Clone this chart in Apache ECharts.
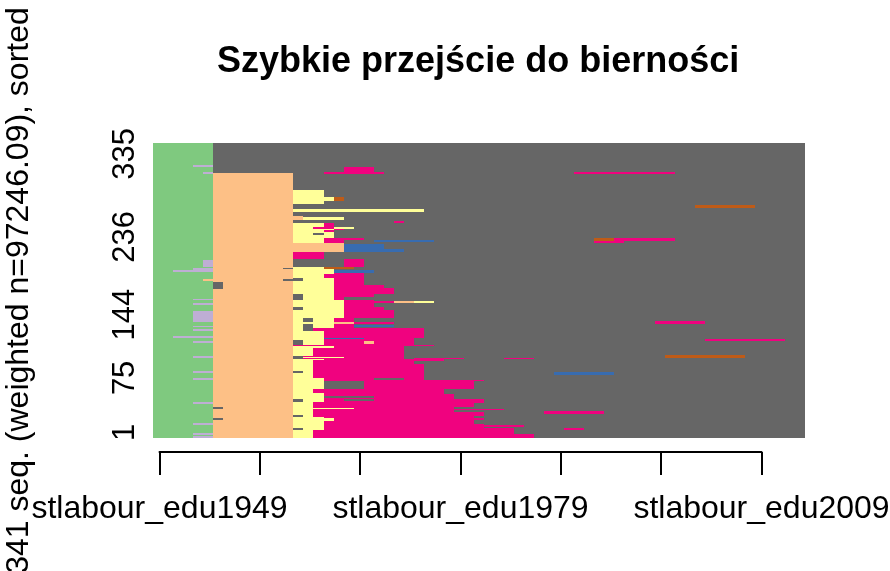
<!DOCTYPE html>
<html>
<head>
<meta charset="utf-8">
<title>Szybkie przejście do bierności</title>
<script src="https://cdn.jsdelivr.net/npm/echarts@6/dist/echarts.min.js"></script>
<style>
  html, body { margin: 0; padding: 0; background: #fff; }
  #chart { width: 890px; height: 571px; }
</style>
</head>
<body>
<div id="chart"></div>
<script>
// state palette (RColorBrewer "Accent", as TraMineR uses it)
const stateColors = {
  green: "#7FC97F",
  purple: "#BEAED4",
  peach: "#FDC086",
  yellow: "#FFFF99",
  blue: "#386CB0",
  pink: "#F0027F",
  brown: "#BF5B17",
  grey: "#666666"
};

const nSeq = 341;
const firstYear = 1949;
const lastYear = 2013;
// weighted index labels and the (row-scale) places where they sit
const yTickLabels = [1, 75, 144, 236, 335];
const yTickPos = [7, 70, 143, 233, 329];
const xTickYears = [1949, 1959, 1969, 1979, 1989, 1999, 2009];
const xLabelYears = [1949, 1979, 2009];

// spells: [rowFrom, rowTo, yearFrom, yearTo, state]  (rows counted from bottom)
const baseSpells = [
  [1, 341, 1949, 2013, "grey"],
  [1, 341, 1949, 1954, "green"],
  [1, 306, 1955, 1962, "peach"]
];

// early spells inside green / peach blocks
const earlySpells = [
  [1, 2, 1953, 1954, "purple"],
  [5, 6, 1953, 1954, "purple"],
  [16, 17, 1953, 1954, "purple"],
  [40, 42, 1953, 1954, "purple"],
  [68, 69, 1953, 1954, "purple"],
  [76, 77, 1953, 1954, "purple"],
  [94, 95, 1953, 1954, "purple"],
  [111, 112, 1953, 1954, "purple"],
  [117, 118, 1951, 1954, "purple"],
  [125, 126, 1953, 1954, "purple"],
  [129, 130, 1953, 1954, "purple"],
  [135, 147, 1953, 1954, "purple"],
  [155, 156, 1953, 1954, "purple"],
  [160, 161, 1953, 1954, "purple"],
  [183, 184, 1954, 1954, "peach"],
  [193, 194, 1951, 1954, "purple"],
  [195, 196, 1953, 1954, "purple"],
  [199, 206, 1954, 1954, "purple"],
  [306, 307, 1954, 1954, "purple"],
  [314, 316, 1953, 1954, "purple"],
  [22, 23, 1955, 1955, "grey"],
  [35, 36, 1955, 1955, "grey"],
  [173, 180, 1955, 1955, "grey"],
  [183, 184, 1962, 1962, "grey"],
  [196, 197, 1962, 1962, "grey"]
];

// pink (employment) block after leaving school, bottom part
const pinkSpells = [
  [1, 5, 1963, 1986, "pink"],
  [6, 11, 1963, 1984, "pink"],
  [12, 13, 1963, 1981, "pink"],
  [14, 15, 1963, 1985, "pink"],
  [16, 16, 1963, 1981, "pink"],
  [17, 21, 1963, 1980, "pink"],
  [22, 23, 1963, 1981, "pink"],
  [24, 25, 1963, 1980, "pink"],
  [26, 30, 1963, 1981, "pink"],
  [31, 32, 1963, 1978, "pink"],
  [33, 34, 1963, 1983, "pink"],
  [35, 36, 1963, 1978, "pink"],
  [37, 41, 1963, 1980, "pink"],
  [42, 45, 1963, 1981, "pink"],
  [46, 51, 1963, 1978, "pink"],
  [52, 57, 1963, 1977, "pink"],
  [58, 66, 1963, 1980, "pink"],
  [67, 67, 1963, 1981, "pink"],
  [68, 86, 1963, 1975, "pink"],
  [87, 89, 1963, 1974, "pink"],
  [90, 91, 1963, 1977, "pink"],
  [92, 93, 1963, 1973, "pink"],
  [92, 93, 1975, 1979, "pink"],
  [92, 93, 1984, 1986, "pink"],
  [94, 106, 1963, 1973, "pink"],
  [107, 108, 1963, 1976, "pink"],
  [109, 113, 1963, 1974, "pink"]
];

// yellow / grey starts of the bottom part
const startSpells = [
  [1, 9, 1963, 1964, "yellow"],
  [10, 12, 1963, 1963, "grey"],
  [10, 12, 1964, 1965, "yellow"],
  [13, 24, 1963, 1965, "yellow"],
  [21, 23, 1963, 1966, "yellow"],
  [25, 27, 1963, 1963, "grey"],
  [25, 27, 1964, 1964, "yellow"],
  [28, 33, 1963, 1964, "yellow"],
  [34, 35, 1963, 1968, "yellow"],
  [36, 42, 1963, 1964, "yellow"],
  [43, 45, 1963, 1963, "grey"],
  [43, 45, 1964, 1965, "yellow"],
  [44, 45, 1968, 1970, "grey"],
  [46, 52, 1963, 1965, "yellow"],
  [47, 48, 1966, 1970, "grey"],
  [53, 57, 1963, 1964, "yellow"],
  [58, 66, 1963, 1965, "yellow"],
  [58, 66, 1966, 1969, "grey"],
  [67, 69, 1963, 1965, "yellow"],
  [68, 69, 1971, 1973, "grey"],
  [70, 75, 1963, 1964, "yellow"],
  [76, 78, 1963, 1963, "grey"],
  [76, 78, 1964, 1964, "yellow"],
  [79, 90, 1963, 1964, "yellow"],
  [91, 91, 1963, 1965, "yellow"],
  [92, 95, 1963, 1963, "grey"],
  [93, 94, 1964, 1967, "yellow"],
  [96, 104, 1963, 1964, "yellow"],
  [105, 106, 1963, 1966, "yellow"],
  [109, 113, 1963, 1963, "grey"],
  [109, 113, 1964, 1965, "yellow"],
  [110, 112, 1970, 1970, "peach"]
];

// middle and upper part of the plot
const midSpells = [
  [114, 116, 1963, 1965, "yellow"],
  [114, 116, 1966, 1974, "pink"],
  [115, 116, 1966, 1969, "blue"],
  [117, 124, 1963, 1965, "yellow"],
  [117, 124, 1966, 1975, "pink"],
  [125, 127, 1963, 1963, "yellow"],
  [125, 127, 1965, 1975, "pink"],
  [128, 132, 1963, 1963, "yellow"],
  [128, 132, 1965, 1966, "yellow"],
  [128, 132, 1967, 1968, "pink"],
  [129, 131, 1969, 1972, "blue"],
  [133, 134, 1963, 1966, "yellow"],
  [133, 134, 1967, 1972, "pink"],
  [133, 134, 1967, 1968, "peach"],
  [135, 139, 1963, 1963, "yellow"],
  [135, 139, 1965, 1966, "yellow"],
  [135, 139, 1967, 1968, "pink"],
  [140, 148, 1963, 1967, "yellow"],
  [140, 148, 1968, 1972, "pink"],
  [149, 152, 1964, 1967, "yellow"],
  [149, 152, 1968, 1971, "pink"],
  [153, 160, 1963, 1967, "yellow"],
  [153, 160, 1968, 1970, "pink"],
  [157, 158, 1968, 1972, "pink"],
  [157, 158, 1973, 1974, "peach"],
  [157, 158, 1975, 1976, "yellow"],
  [161, 163, 1964, 1966, "yellow"],
  [161, 163, 1967, 1967, "pink"],
  [164, 166, 1964, 1966, "yellow"],
  [164, 166, 1967, 1970, "pink"],
  [167, 173, 1963, 1966, "yellow"],
  [167, 173, 1967, 1972, "pink"],
  [174, 177, 1963, 1966, "yellow"],
  [174, 177, 1967, 1971, "pink"],
  [178, 182, 1963, 1966, "yellow"],
  [178, 182, 1967, 1969, "pink"],
  [183, 185, 1964, 1966, "yellow"],
  [183, 185, 1967, 1969, "pink"],
  [186, 189, 1963, 1965, "yellow"],
  [186, 189, 1966, 1969, "pink"],
  [190, 191, 1963, 1966, "yellow"],
  [190, 191, 1967, 1969, "pink"],
  [192, 193, 1963, 1966, "yellow"],
  [192, 194, 1967, 1970, "blue"],
  [194, 195, 1963, 1966, "yellow"],
  [196, 198, 1963, 1965, "yellow"],
  [196, 198, 1966, 1968, "brown"],
  [199, 207, 1968, 1969, "pink"],
  [208, 215, 1963, 1965, "pink"],
  [216, 225, 1963, 1967, "peach"],
  [216, 219, 1968, 1973, "blue"],
  [220, 224, 1968, 1971, "blue"],
  [226, 231, 1963, 1965, "yellow"],
  [226, 231, 1966, 1967, "pink"],
  [227, 229, 1971, 1976, "blue"],
  [230, 231, 1968, 1969, "pink"],
  [232, 235, 1963, 1966, "yellow"],
  [236, 240, 1963, 1966, "yellow"],
  [236, 237, 1965, 1965, "grey"],
  [239, 240, 1966, 1966, "pink"],
  [241, 242, 1963, 1966, "yellow"],
  [241, 242, 1967, 1967, "pink"],
  [243, 244, 1963, 1964, "yellow"],
  [243, 244, 1965, 1966, "pink"],
  [243, 244, 1967, 1968, "yellow"],
  [245, 249, 1963, 1965, "yellow"],
  [245, 249, 1966, 1966, "pink"],
  [249, 251, 1973, 1973, "pink"],
  [253, 257, 1963, 1963, "peach"],
  [253, 255, 1964, 1967, "yellow"],
  [262, 265, 1963, 1975, "yellow"],
  [271, 287, 1963, 1965, "yellow"],
  [275, 279, 1966, 1966, "yellow"],
  [275, 279, 1967, 1967, "brown"],
  [306, 307, 1966, 1971, "pink"],
  [308, 313, 1968, 1970, "pink"]
];

// isolated later spells on the right
const lateSpells = [
  [10, 11, 1990, 1991, "pink"],
  [29, 31, 1988, 1993, "pink"],
  [74, 76, 1989, 1994, "blue"],
  [94, 96, 2000, 2007, "brown"],
  [113, 115, 2004, 2011, "pink"],
  [133, 135, 1999, 2003, "pink"],
  [226, 228, 1993, 1995, "pink"],
  [229, 231, 1993, 1994, "brown"],
  [229, 231, 1995, 2000, "pink"],
  [267, 269, 2003, 2008, "brown"],
  [306, 308, 1991, 2000, "pink"]
];

const spells = [].concat(baseSpells, earlySpells, pinkSpells, startSpells, midSpells, lateSpells);

const chart = echarts.init(document.getElementById("chart"));
const font = "'Liberation Sans', Arial, sans-serif";

function renderSpell(params, api) {
  // cell edges are half a unit around the row / year centres
  const p0 = api.coord([api.value(2) - 0.5, api.value(1) + 0.5]);
  const p1 = api.coord([api.value(3) + 0.5, api.value(0) - 0.5]);
  const x0 = Math.round(p0[0]), y0 = Math.round(p0[1]);
  const x1 = Math.round(p1[0]), y1 = Math.round(p1[1]);
  return {
    type: "rect",
    shape: { x: x0, y: y0, width: x1 - x0, height: Math.max(1, y1 - y0) },
    style: { fill: stateColors[spells[params.dataIndex][4]] }
  };
}

chart.setOption({
  animation: false,
  backgroundColor: "#ffffff",
  title: {
    text: "Szybkie przejście do bierności",
    left: 212,
    top: 39,
    textStyle: { fontFamily: font, fontSize: 36, fontWeight: "bold", color: "#000" }
  },
  grid: [
    { left: 153, top: 143, width: 652, height: 295, outerBoundsMode: "none", containLabel: false },
    { left: 159.5, top: 143, width: 602, height: 295, outerBoundsMode: "none", containLabel: false }
  ],
  xAxis: [
    { gridIndex: 0, type: "value", min: firstYear - 0.5, max: lastYear + 0.5, show: false },
    {
      gridIndex: 1,
      type: "value",
      min: 1949,
      max: 2009,
      offset: 14,
      splitLine: { show: false },
      axisLine: { show: true, onZero: false, lineStyle: { color: "#000", width: 2 } },
      axisTick: { show: true, length: 23, customValues: xTickYears, lineStyle: { color: "#000", width: 2 } },
      axisLabel: {
        customValues: xLabelYears,
        margin: 41,
        fontFamily: font,
        fontSize: 32,
        color: "#000",
        formatter: function (v) { return "stlabour_edu" + v; }
      }
    }
  ],
  yAxis: [
    {
      gridIndex: 0,
      type: "value",
      min: 0.5,
      max: nSeq + 0.5,
      splitLine: { show: false },
      axisLine: { show: false },
      axisTick: { show: false },
      axisLabel: {
        customValues: yTickPos,
        rotate: 90,
        margin: 12,
        fontFamily: font,
        fontSize: 31,
        color: "#000",
        formatter: function (v) {
          const i = yTickPos.indexOf(v);
          return i >= 0 ? String(yTickLabels[i]) : "";
        }
      },
      name: nSeq + " seq. (weighted n=97246.09), sorted",
      nameLocation: "middle",
      nameRotate: 90,
      nameGap: 118,
      nameTextStyle: { fontFamily: font, fontSize: 32, color: "#000" }
    },
    { gridIndex: 1, type: "value", min: 0, max: 1, show: false }
  ],
  series: [
    {
      type: "custom",
      xAxisIndex: 0,
      yAxisIndex: 0,
      renderItem: renderSpell,
      encode: { x: [2, 3], y: [0, 1] },
      data: spells.map(function (s) { return [s[0], s[1], s[2], s[3]]; })
    }
  ]
});
</script>
</body>
</html>
